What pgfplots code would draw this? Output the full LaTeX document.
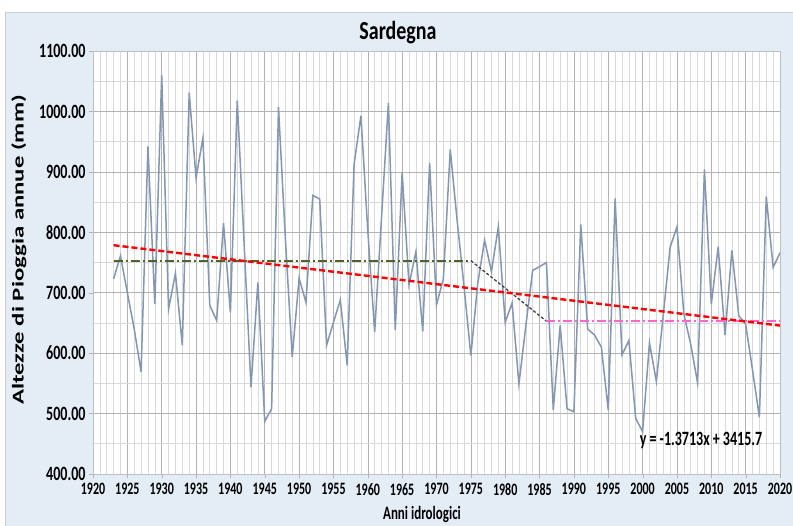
\documentclass[border=0pt]{standalone}
\usepackage{fontspec}
\setmainfont{Carlito}
\usepackage{pgfplots}
\pgfplotsset{compat=1.18}
\definecolor{bgblue}{HTML}{E4ECF6}
\definecolor{dataline}{HTML}{8496B0}
\definecolor{olivegreen}{HTML}{4F6228}
\definecolor{pinkish}{HTML}{FF66CC}
\begin{document}
\begin{tikzpicture}[x=1pt,y=1pt]
\useasboundingbox (0,0) rectangle (793,526);
\fill[white] (0,0) rectangle (793,526);
\filldraw[fill=bgblue, draw=gray!40] (5,-1) rectangle (794,514);
\begin{axis}[
  at={(93pt,52pt)}, anchor=south west,
  scale only axis, width=687pt, height=423pt,
  xmin=1920, xmax=2020, ymin=400, ymax=1100,
  xtick={1920,1925,...,2020}, ytick={400,500,...,1100},
  minor x tick num=4, minor y tick num=1,
  grid=both,
  major grid style={draw=gray!60, line width=0.6pt},
  minor grid style={draw=gray!30, line width=0.6pt},
  axis background/.style={fill=white},
  axis line style={draw=gray!50},
  tick style={draw=gray!60},
  major tick length=4pt, minor tick length=0pt,
  tick align=outside,
  xtick pos=left, ytick pos=left,
  /pgf/number format/assume math mode=true,
  xticklabel={\scalebox{1}[1.45]{\pgfmathprintnumber[1000 sep={}]{\tick}}},
  yticklabel={\scalebox{1}[1.45]{\pgfmathprintnumber[fixed,fixed zerofill,precision=2,1000 sep={}]{\tick}}},
  xticklabel style={font=\bfseries\fontsize{12}{12}\selectfont, yshift=-2pt},
  yticklabel style={font=\bfseries\fontsize{14}{14}\selectfont},
]
\addplot[dataline, line width=1.5pt, no marks] table {
x y
1923 723
1924 761
1925 700
1926 640
1927 569
1928 942
1929 681
1930 1060
1931 673
1932 732
1933 613
1934 1031
1935 890
1936 956
1937 679
1938 654
1939 815
1940 667
1941 1018
1942 780
1943 544
1944 717
1945 487
1946 508
1947 1007
1948 790
1949 594
1950 724
1951 684
1952 861
1953 855
1954 613
1955 651
1956 688
1957 580
1958 912
1959 993
1960 802
1961 635
1962 825
1963 1014
1964 638
1965 899
1966 713
1967 768
1968 636
1969 915
1970 680
1971 723
1972 937
1973 820
1974 711
1975 596
1976 715
1977 787
1978 735
1979 809
1980 651
1981 683
1982 549
1983 645
1984 737
1985 743
1986 750
1987 506
1988 646
1989 508
1990 503
1991 813
1992 640
1993 630
1994 610
1995 506
1996 856
1997 597
1998 621
1999 492
2000 470
2001 617
2002 553
2003 662
2004 775
2005 809
2006 665
2007 615
2008 551
2009 904
2010 681
2011 776
2012 630
2013 770
2014 662
2015 648
2016 572
2017 494
2018 859
2019 742
2020 766
};
\addplot[olivegreen, line width=1.7pt, dash pattern=on 9pt off 3pt on 2pt off 3pt] coordinates {(1923,753) (1975,753)};
\addplot[black!75, line width=1.3pt, dash pattern=on 3pt off 2pt] coordinates {(1975,753) (1986,653)};
\addplot[pinkish, line width=1.7pt, dash pattern=on 9pt off 3pt on 2pt off 3pt] coordinates {(1986,653) (2020,653)};
\addplot[red, line width=2.4pt, dash pattern=on 6pt off 3pt] coordinates {(1923,778.6) (2020,645.6)};
\node[font=\bfseries\fontsize{14}{14}\selectfont] at (axis cs:2008.5,456) {\scalebox{1}[1.45]{y = -1.3713x + 3415.7}};
\end{axis}
\node[font=\bfseries\fontsize{20}{20}\selectfont] at (398,493) {\scalebox{1}[1.3]{Sardegna}};
\node[font=\bfseries\fontsize{13}{13}\selectfont] at (422,12) {\scalebox{1}[1.45]{Anni idrologici}};
\node[rotate=90, font=\bfseries\fontsize{16.5}{16.5}\selectfont] at (19,276) {\scalebox{1.5}[1]{Altezze di Pioggia annue (mm)}};
\end{tikzpicture}
\end{document}
